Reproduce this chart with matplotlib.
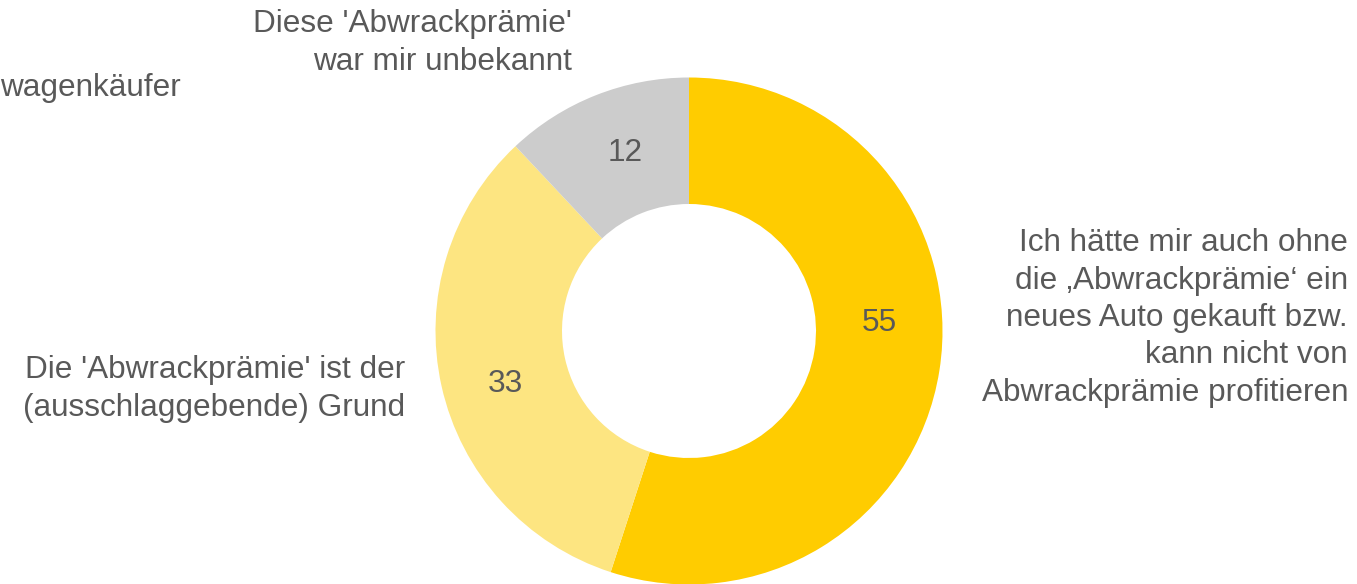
import numpy as np
import matplotlib
matplotlib.use("Agg")
import matplotlib.pyplot as plt

plt.rcParams["font.family"] = ["Liberation Sans", "DejaVu Sans"]

# Daten
values = [55, 33, 12]
value_labels = ["55", "33", "12"]
categories = [
    "Ich hätte mir auch ohne\ndie ‚Abwrackprämie‘ ein\nneues Auto gekauft bzw.\nkann nicht von\nAbwrackprämie profitieren",
    "Die 'Abwrackprämie' ist der\n(ausschlaggebende) Grund",
    "Diese 'Abwrackprämie'\nwar mir unbekannt",
]
colors = ["#FFCC00", "#FDE581", "#CCCCCC"]
# Titel ist im Original links abgeschnitten
title_visible = "wagenkäufer"

TEXT_COLOR = "#595959"
FS = 22.7
LS = 1.32
W, H = 1357, 584

fig = plt.figure(figsize=(W / 100, H / 100), dpi=100)
ax = fig.add_axes([0, 0, 1, 1])

cx, cy = 689, H - 331
r_out = 253.5
wedges, _ = ax.pie(
    values,
    colors=colors,
    startangle=90,
    counterclock=False,
    radius=r_out,
    center=(cx, cy),
    wedgeprops=dict(width=126.5, linewidth=0),
    frame=True,
)
ax.set_xlim(0, W)
ax.set_ylim(0, H)
ax.set_aspect("equal")
ax.axis("off")

# Wertelabels (Excel hat das 55er-Label etwas verschoben)
label_nudge = [12, 3, -2]
label_r = 191
for w, lab, nudge in zip(wedges, value_labels, label_nudge):
    ang = np.deg2rad((w.theta1 + w.theta2) / 2 + nudge)
    ax.text(cx + label_r * np.cos(ang), cy + label_r * np.sin(ang) - 2, lab,
            ha="center", va="center", fontsize=FS, color=TEXT_COLOR)

# Kategorien
ax.text(1348, H - 318, categories[0], ha="right", va="center",
        fontsize=FS, color=TEXT_COLOR, linespacing=LS)
ax.text(405, H - 389, categories[1], ha="right", va="center",
        fontsize=FS, color=TEXT_COLOR, linespacing=LS)
ax.text(572, H - 43, categories[2], ha="right", va="center",
        fontsize=FS, color=TEXT_COLOR, linespacing=LS)

ax.text(0, H - 88, title_visible, ha="left", va="center",
        fontsize=FS, color=TEXT_COLOR)

fig.savefig("out.png", dpi=100)
